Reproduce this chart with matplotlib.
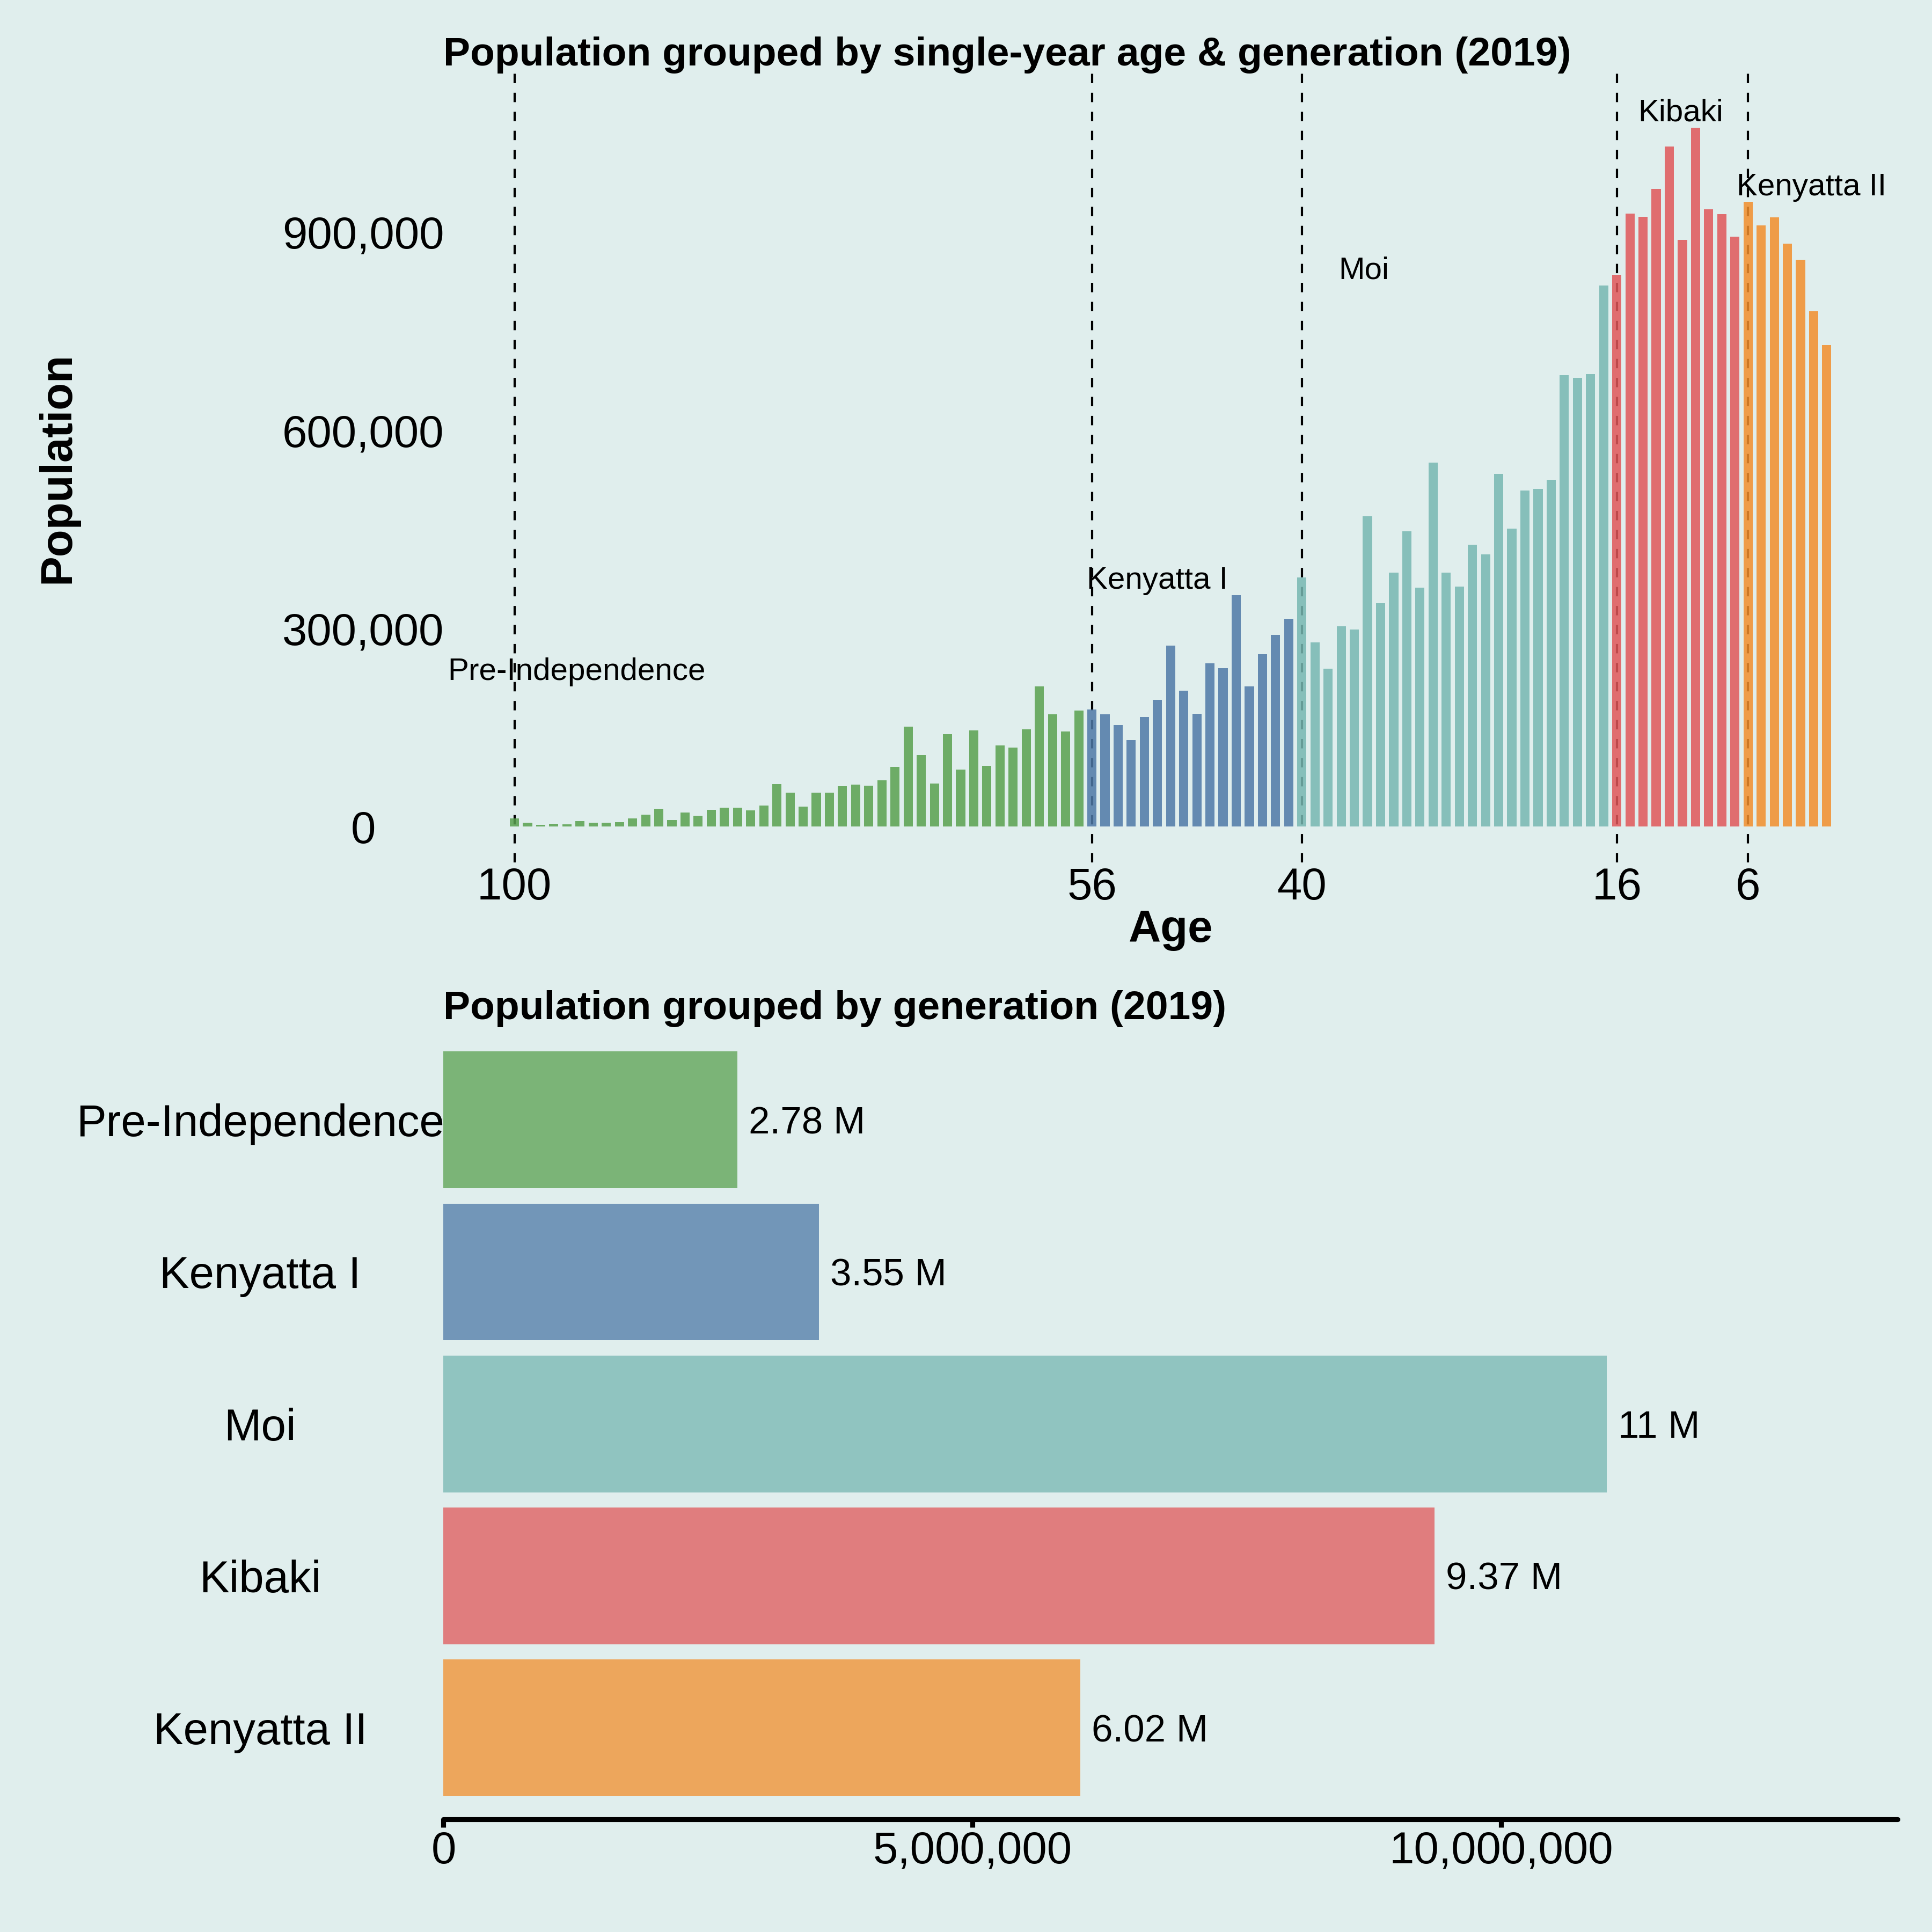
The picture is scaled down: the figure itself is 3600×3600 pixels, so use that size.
import matplotlib
matplotlib.use("Agg")
import matplotlib.pyplot as plt
from matplotlib.ticker import FuncFormatter

plt.rcParams['font.family'] = ['Liberation Sans', 'DejaVu Sans']

# ---------------- data ----------------
ages = list(range(100, -1, -1))  # 100 down to 0
population = [
    12300, 5700, 2500, 4100, 3300, 8200, 5700, 5700, 6500, 12300,          # 100-91
    18000, 27000, 9800, 21300, 16400, 25300, 28600, 28600, 24500, 31900,    # 90-81
    64600, 51500, 30200, 51500, 51500, 61300, 63800, 62100, 70000, 90500,   # 80-71
    151000, 108000, 65000, 140000, 86000, 145800, 91700, 122900, 119400, 147500,  # 70-61
    212000, 170000, 144000, 176000, 177400, 169600, 154000, 131000, 166000, 192000,  # 60-51
    274000, 205500, 171000, 247000, 239700, 350000, 212000, 261000, 290000, 314600,  # 50-41
    377000, 279000, 239000, 303000, 298000, 470000, 338000, 384000, 447000, 362000,  # 40-31
    551000, 384000, 363500, 426600, 412000, 534000, 451000, 509000, 511000, 525000,  # 30-21
    683000, 679000, 685000, 819000, 835000, 928000, 923000, 965000, 1029000, 888000,  # 20-11
    1058000, 934000, 927000, 893000, 946000, 910000, 922000, 882000, 858000, 780000,  # 10-1
    729000,                                                                  # 0
]

generations = ['Pre-Independence', 'Kenyatta I', 'Moi', 'Kibaki', 'Kenyatta II']
gen_oldest_age = [100, 56, 40, 16, 6]
gen_totals = [2780000, 3550000, 11000000, 9370000, 6020000]
gen_colors = ['#59A14F', '#4E79A7', '#76B7B2', '#E15759', '#F28E2B']

title_top = 'Population grouped by single-year age & generation (2019)'
title_bottom = 'Population grouped by generation (2019)'

# ---------------- layout / style ----------------
BG = '#E0EEED'
label_x = [105.1, 56.4, 37.2, 14.4, 6.85]   # annotation x positions (age units)


def gen_index(age):
    idx = 0
    for i, b in enumerate(gen_oldest_age):
        if age <= b:
            idx = i
    return idx


bar_colors = [gen_colors[gen_index(a)] for a in ages]

fig = plt.figure(figsize=(12, 12), dpi=300, facecolor=BG)

# ---------- top chart ----------
ax1 = fig.add_axes([0.22958, 0.55369, 0.75264, 0.40834], facecolor=BG)
for b in gen_oldest_age:
    ax1.axvline(b, color='black', lw=1.0, linestyle=(0, (4.2, 4.3)), zorder=1)
ax1.bar(ages, population, width=0.7, color=bar_colors, alpha=0.85, zorder=2)
ax1.set_xlim(105.4, -5.4)
ax1.set_ylim(-54000, 1140000)
ax1.set_xticks(gen_oldest_age)
ax1.set_xticklabels([str(b) for b in gen_oldest_age])
ax1.set_yticks([0, 300000, 600000, 900000])
ax1.yaxis.set_major_formatter(FuncFormatter(lambda v, p: f'{v:,.0f}'))
ax1.tick_params(axis='both', length=0, labelsize=20)
ax1.tick_params(axis='x', pad=2)
ax1.tick_params(axis='y', pad=36)
for lab in ax1.get_yticklabels():
    lab.set_horizontalalignment('center')
for s in ax1.spines.values():
    s.set_visible(False)
ax1.set_title(title_top, loc='left', fontsize=18, fontweight='bold', pad=3)
ax1.set_ylabel('Population', fontsize=20, fontweight='bold')
ax1.yaxis.set_label_coords(-0.2509, 0.5)
ax1.set_xlabel('Age', fontsize=20, fontweight='bold', va='top')
ax1.xaxis.set_label_coords(0.5, -0.0594)

for i, g in enumerate(generations):
    vals = [p for a, p in zip(ages, population) if gen_index(a) == i]
    ax1.text(label_x[i], max(vals), g, ha='left', va='bottom', fontsize=14, zorder=3)

# ---------- bottom chart ----------
ax2 = fig.add_axes([0.22958, 0.05847, 0.75264, 0.40986], facecolor=BG)
ypos = list(range(len(generations)))
ax2.barh(ypos, gen_totals, height=0.9, color=gen_colors, alpha=0.75)
ax2.set_ylim(4.6, -0.61)
ax2.set_xlim(0, 13750000)
ax2.set_yticks(ypos)
ax2.set_yticklabels(generations)
for lab in ax2.get_yticklabels():
    lab.set_horizontalalignment('center')
ax2.tick_params(axis='y', length=0, pad=82, labelsize=20)
ax2.set_xticks([0, 5000000, 10000000])
ax2.xaxis.set_major_formatter(FuncFormatter(lambda v, p: f'{v:,.0f}'))
ax2.tick_params(axis='x', length=3.5, width=2.2, pad=1.6, labelsize=20)
for k in ['top', 'right', 'left']:
    ax2.spines[k].set_visible(False)
ax2.spines['bottom'].set_linewidth(2.2)
ax2.spines['bottom'].set_capstyle('round')
for i, v in enumerate(gen_totals):
    ax2.annotate(f'{v / 1e6:.3g} M', xy=(v, i), xytext=(5, 0), textcoords='offset points',
                 ha='left', va='center_baseline', fontsize=17)
ax2.set_title(title_bottom, loc='left', fontsize=18, fontweight='bold', pad=3)

fig.savefig('out.png', dpi=300, facecolor=BG)
